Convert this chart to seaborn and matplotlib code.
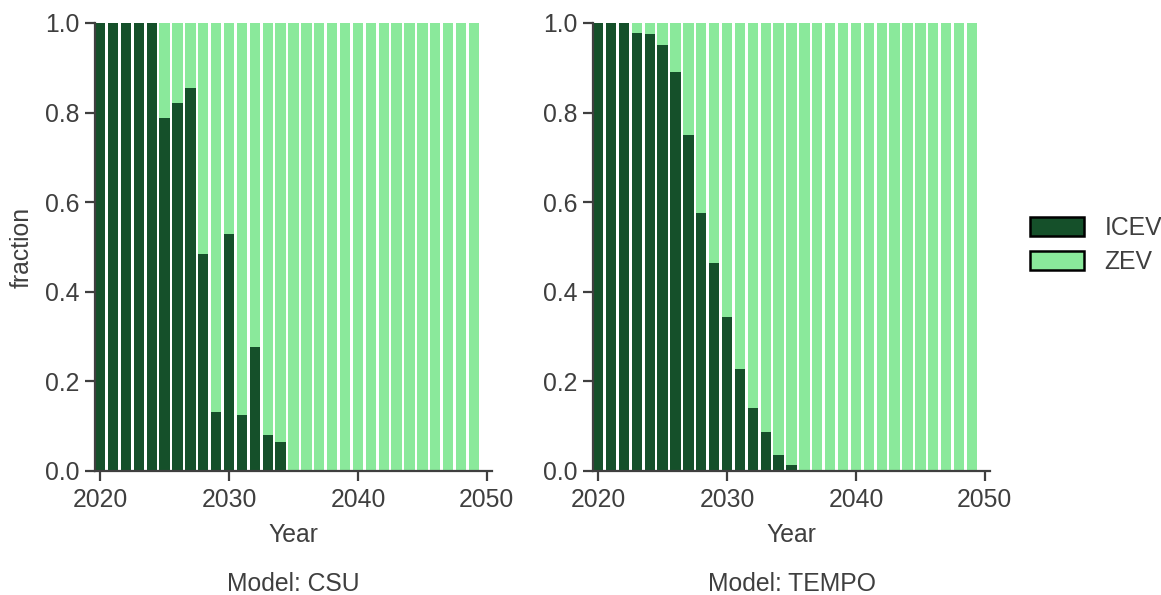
import numpy as np
import pandas as pd
import matplotlib
matplotlib.use("Agg")
import matplotlib.pyplot as plt
import seaborn as sns
from matplotlib.patches import Patch

years = list(range(2020, 2050))

# ICEV share of new sales per model year; ZEV is the remainder
icev_csu = [1.0, 1.0, 1.0, 1.0, 1.0, 0.787, 0.821, 0.856, 0.484, 0.131,
            0.528, 0.126, 0.276, 0.080, 0.064] + [0.0] * 15
icev_tempo = [1.0, 1.0, 1.0, 0.977, 0.975, 0.950, 0.890, 0.751, 0.575, 0.464,
              0.343, 0.227, 0.140, 0.086, 0.035, 0.013] + [0.0] * 14

models = ["CSU", "TEMPO"]
icev_by_model = {"CSU": icev_csu, "TEMPO": icev_tempo}
x_ticks = [2020, 2030, 2040, 2050]
y_ticks = [0.0, 0.2, 0.4, 0.6, 0.8, 1.0]

ICEV_COLOR = "#15502a"
ZEV_COLOR = "#8ae99b"
TEXT = "#3f3f3f"
FS = 17.8

sns.set_theme(style="ticks")
plt.rcParams["font.family"] = ["Liberation Sans", "DejaVu Sans"]
plt.rcParams.update({
    "font.size": FS,
    "text.color": TEXT,
    "axes.labelcolor": TEXT,
    "xtick.color": TEXT,
    "ytick.color": TEXT,
    "axes.edgecolor": TEXT,
    "axes.linewidth": 1.6,
    "xtick.major.width": 1.6,
    "ytick.major.width": 1.6,
    "xtick.major.size": 7,
    "ytick.major.size": 7,
    "xtick.major.pad": 5,
    "ytick.major.pad": 4,
    "xtick.labelsize": FS,
    "ytick.labelsize": FS,
    "axes.labelsize": FS,
})

fig = plt.figure(figsize=(11.61, 5.95), dpi=100)
W, H = 1161, 595
ax_boxes = [(95, 23, 492, 471), (593, 23, 990, 471)]

for i, model in enumerate(models):
    x0, y0, x1, y1 = ax_boxes[i]
    ax = fig.add_axes([x0 / W, 1 - y1 / H, (x1 - x0) / W, (y1 - y0) / H])
    icev = np.array(icev_by_model[model])
    zev = 1.0 - icev
    df = pd.DataFrame({"Year": years, "ICEV": icev, "total": icev + zev})

    # stacked bars: full column (ZEV on top) first, then ICEV from the bottom
    sns.barplot(data=df, x="Year", y="total", native_scale=True, width=0.8,
                color=ZEV_COLOR, saturation=1, linewidth=0, ax=ax)
    sns.barplot(data=df, x="Year", y="ICEV", native_scale=True, width=0.8,
                color=ICEV_COLOR, saturation=1, linewidth=0, ax=ax)

    ax.set_xlim(2019.6, 2050.4)
    ax.set_ylim(0, 1.0)
    ax.set_xticks(x_ticks)
    ax.set_xticklabels([str(t) for t in x_ticks])
    ax.set_yticks(y_ticks)
    ax.set_yticklabels([f"{t:.1f}" for t in y_ticks])
    ax.set_xlabel("Year", labelpad=8)
    ax.set_ylabel("fraction" if i == 0 else "", labelpad=8)
    sns.despine(ax=ax)
    ax.text(0.5, -0.253, f"Model: {model}", transform=ax.transAxes,
            ha="center", va="center", fontsize=FS, color=TEXT)

handles = [Patch(facecolor=ICEV_COLOR, edgecolor="black", linewidth=1.8, label="ICEV"),
           Patch(facecolor=ZEV_COLOR, edgecolor="black", linewidth=1.8, label="ZEV")]
fig.legend(handles=handles, loc="center left", bbox_to_anchor=(1030 / W, 1 - 245 / H),
           frameon=False, fontsize=FS, handlelength=2.2, handleheight=0.82,
           handletextpad=0.82, labelspacing=0.42, borderpad=0, borderaxespad=0)

fig.savefig("out.png", dpi=100)
